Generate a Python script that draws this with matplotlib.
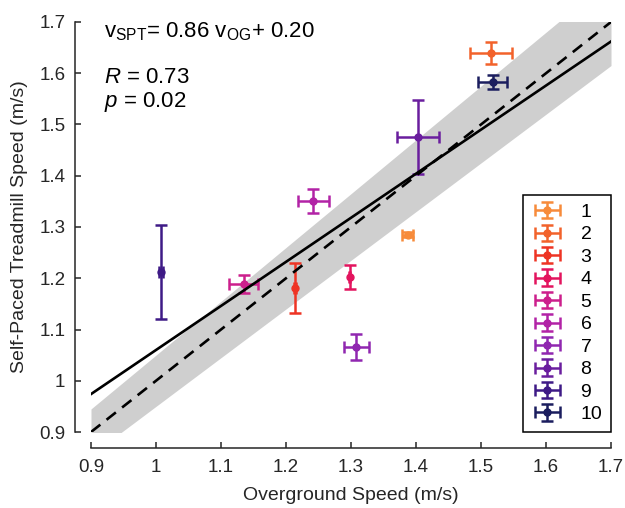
import numpy as np
import matplotlib
matplotlib.use("Agg")
import matplotlib.pyplot as plt
from matplotlib.ticker import FormatStrFormatter
from matplotlib.legend_handler import HandlerErrorbar
from matplotlib.container import ErrorbarContainer

plt.rcParams["font.family"] = ["Liberation Sans", "DejaVu Sans"]
plt.rcParams["mathtext.fontset"] = "custom"
plt.rcParams["mathtext.rm"] = "Liberation Sans"
plt.rcParams["mathtext.it"] = "Liberation Sans:italic"

# datos por sujeto
subjects = ["1", "2", "3", "4", "5", "6", "7", "8", "9", "10"]
og_speed = [1.387, 1.515, 1.214, 1.298, 1.135, 1.242, 1.308, 1.403, 1.008, 1.518]
spt_speed = [1.285, 1.639, 1.181, 1.203, 1.189, 1.351, 1.066, 1.476, 1.212, 1.583]
og_err = [0.008, 0.032, 0.001, 0.001, 0.022, 0.024, 0.019, 0.033, 0.003, 0.022]
spt_err = [0.005, 0.021, 0.048, 0.023, 0.017, 0.024, 0.025, 0.072, 0.092, 0.013]
colors = ["#F78B3A", "#F2622B", "#EE3424", "#E3145E", "#CC1F8C",
          "#B223A6", "#9027B0", "#6A1E9E", "#3E1A86", "#1B1D5E"]

slope = 0.86
intercept = 0.20
band = 0.05  # +/- 5 %

ink = "#262626"

fig = plt.figure(figsize=(6.25, 5.08), dpi=100)
ax = fig.add_axes([0.1456, 0.1496, 0.832, 0.8071])

x = np.array([0.9, 1.7])
xb = np.linspace(0.9, 1.7, 50)
ax.fill_between(xb, xb * (1 - band), xb * (1 + band), color="#CFCFCF", lw=0, zorder=1)

handles = []
for i in range(len(subjects)):
    h = ax.errorbar(og_speed[i], spt_speed[i], xerr=og_err[i], yerr=spt_err[i],
                    fmt="o", color=colors[i], ms=5, elinewidth=1.8,
                    capsize=4.2, capthick=1.8, zorder=2)
    handles.append(h)

ax.plot(x, slope * x + intercept, color="k", lw=1.9, zorder=3)
ax.plot(x, x, color="k", lw=1.9, dashes=(4.5, 3), zorder=3)

ax.set_xlim(0.9, 1.7)
ax.set_ylim(0.9, 1.7)
ax.set_xticks(np.arange(0.9, 1.71, 0.1))
ax.set_yticks(np.arange(0.9, 1.71, 0.1))
ax.xaxis.set_major_formatter(FormatStrFormatter("%g"))
ax.yaxis.set_major_formatter(FormatStrFormatter("%g"))

for s in ["top", "right"]:
    ax.spines[s].set_visible(False)
for s in ["left", "bottom"]:
    ax.spines[s].set_position(("outward", 11.5))
    ax.spines[s].set_linewidth(1.1)
    ax.spines[s].set_color(ink)
ax.tick_params(direction="in", length=4, width=1.1, colors=ink,
               labelsize=13.5)
ax.tick_params(axis="x", pad=8)
ax.tick_params(axis="y", pad=7)

ax.set_xlabel("Overground Speed (m/s)", fontsize=14, color=ink, labelpad=8)
ax.set_ylabel("Self-Paced Treadmill Speed (m/s)", fontsize=14, color=ink, labelpad=8)

ax.text(0.92, 1.669, r"v$_\mathregular{SPT}$= 0.86 v$_\mathregular{OG}$+ 0.20",
        fontsize=16, color="k", va="baseline")
ax.text(0.92, 1.581, r"$R$ = 0.73", fontsize=16, color="k", va="baseline")
ax.text(0.92, 1.535, r"$p$ = 0.02", fontsize=16, color="k", va="baseline")

leg = ax.legend(handles, subjects, loc="lower right", bbox_to_anchor=(1, 0),
                borderaxespad=0, fancybox=False, edgecolor="k", fontsize=14,
                labelspacing=0.25, handlelength=1.6, handletextpad=0.9,
                borderpad=0.45, framealpha=1,
                handler_map={ErrorbarContainer: HandlerErrorbar(xerr_size=0.65, yerr_size=0.42)})
leg.get_frame().set_linewidth(1.1)

fig.savefig("out.png", dpi=100)
